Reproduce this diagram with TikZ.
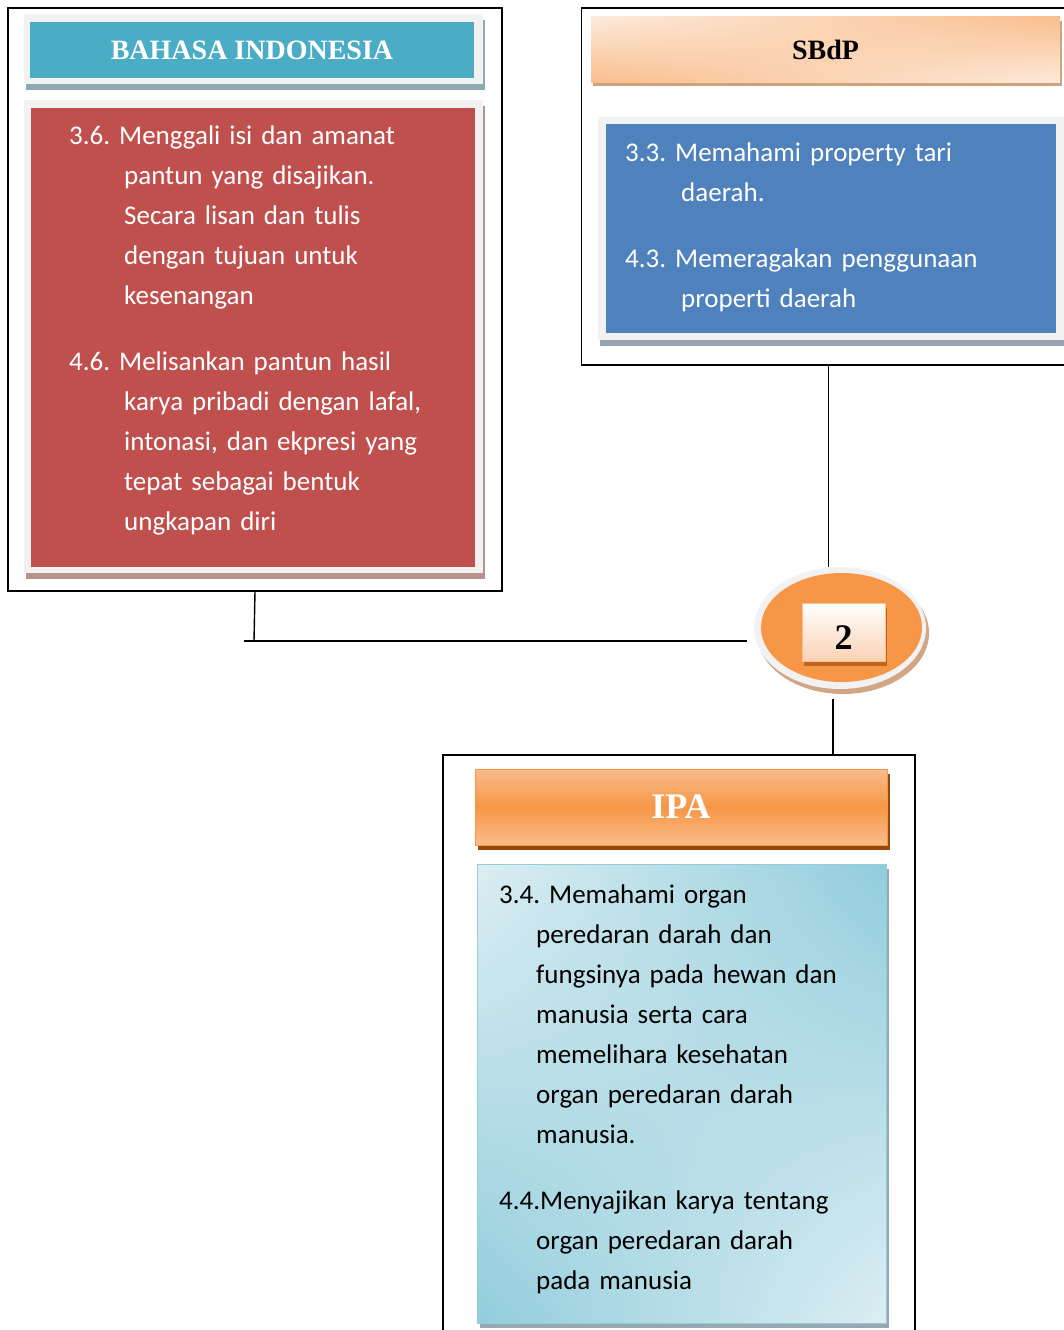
\documentclass[tikz,border=0pt]{standalone}
\usepackage{fontspec}
\setmainfont{Carlito}
\newfontfamily\headfont{Liberation Serif}
\usetikzlibrary{shapes,shadows,shadings,positioning}
\frenchspacing

\newlength{\hangsize}
\newcommand{\nl}{\newline\hspace*{\hangsize}}

\definecolor{frameGray}{HTML}{F2F2F2}
\definecolor{biBlue}{HTML}{4BACC6}
\definecolor{biShadow}{HTML}{8EA9B1}
\definecolor{biRed}{HTML}{C0504D}
\definecolor{redShadow}{HTML}{B99191}
\definecolor{sbOrange}{HTML}{F9BE8C}
\definecolor{sbLight}{HTML}{FDEADC}
\definecolor{sbShadow}{HTML}{CFA27E}
\definecolor{sbBlue}{HTML}{4F81BD}
\definecolor{blueShadow}{HTML}{95A3B3}
\definecolor{ellOrange}{HTML}{F79646}
\definecolor{ellShadow}{HTML}{D3A585}
\definecolor{numPeach}{HTML}{FAD2B4}
\definecolor{numBorder}{HTML}{FAC090}
\definecolor{numShadow}{HTML}{C4651F}
\definecolor{ipaLight}{HTML}{F9BC8B}
\definecolor{ipaShadow}{HTML}{984807}
\definecolor{aquaLight}{HTML}{DCEEF3}
\definecolor{aquaDark}{HTML}{92CDDC}
\definecolor{aquaShadow}{HTML}{98A8B0}

\begin{document}
\begin{tikzpicture}[x=1pt,y=-1pt]
\useasboundingbox (0,0) rectangle (1064,1330);
		\begin{scope}
            [
                styleOuter/.style={draw, line width=1.4pt, fill=white},
                styleFrame/.style={fill=frameGray, inner sep=0pt,
                    drop shadow={shadow xshift=2pt, shadow yshift=-6pt, fill=#1, opacity=1}},
                styleShadow/.style={inner sep=0pt,
                    drop shadow={shadow xshift=3pt, shadow yshift=-5pt, fill=#1, opacity=1}},
                styleHead/.style={inner sep=0pt, text=white,
                    font=\headfont\bfseries\fontsize{28}{34}\selectfont},
                styleText/.style={anchor=north west, inner sep=0pt, text width=420pt,
                    font=\fontsize{27}{40}\selectfont,
                    execute at begin node={\setlength{\hangsize}{#1}}},
            ]
			% BAHASA INDONESIA
			\node(biBox)[styleOuter, minimum width=494pt, minimum height=583pt] at (255,299.5) {};
			\node(biFrame)[styleFrame=biShadow, minimum width=459pt, minimum height=70pt] at (253.5,49) {};
			\node(biHead)[styleHead, fill=biBlue, minimum width=444pt, minimum height=55pt] at (252,50) {BAHASA INDONESIA};
			\node(biBodyFrame)[styleFrame=redShadow, minimum width=459pt, minimum height=473pt] at (253.5,336.5) {};
			\node(biBody)[fill=biRed, inner sep=0pt, minimum width=444pt, minimum height=459pt] at (253,337.5) {};
			\node(bi36)[styleText=55pt, text=white] at (69,126) {3.6. Menggali isi dan amanat\nl
				pantun yang disajikan.\nl Secara lisan dan tulis\nl dengan tujuan untuk\nl kesenangan};
			\node(bi46)[styleText=55pt, text=white] at (69,352) {4.6. Melisankan pantun hasil\nl
				karya pribadi dengan lafal,\nl intonasi, dan ekpresi yang\nl tepat sebagai bentuk\nl ungkapan diri};

			% SBdP
			\node(sbBox)[styleOuter, minimum width=494pt, minimum height=357pt] at (828.5,186.5) {};
			\node(sbHead)[styleHead, text=black, minimum width=469pt, minimum height=65pt,
				upper left=sbLight, upper right=sbOrange, lower left=sbOrange, lower right=sbLight,
				drop shadow={shadow xshift=2pt, shadow yshift=-4pt, fill=sbShadow, opacity=1}]
				at (825.5,49.5) {SBdP};
			\node(sbBodyFrame)[styleFrame=blueShadow, minimum width=466pt, minimum height=223pt] at (831,228.5) {};
			\node(sbBody)[fill=sbBlue, inner sep=0pt, minimum width=450pt, minimum height=209pt] at (831,228.5) {};
			\node(sb33)[styleText=56pt, text=white] at (625,143) {3.3. Memahami property tari\nl daerah.};
			\node(sb43)[styleText=56pt, text=white] at (625,249) {4.3. Memeragakan penggunaan\nl properti daerah};

			% circle with number
			\node(ellRing)[ellipse, styleShadow=ellShadow, fill=frameGray, minimum width=172pt, minimum height=122pt] at (840,628) {};
			\node(ellCore)[ellipse, inner sep=0pt, fill=ellOrange, minimum width=161pt, minimum height=109pt] at (841.5,627.5) {};
			\node(num)[draw=numBorder, line width=1pt, top color=white, bottom color=numPeach,
				inner sep=0pt, minimum width=83pt, minimum height=58pt, text height=34pt, text depth=0pt,
				font=\headfont\bfseries\fontsize{36}{40}\selectfont,
				drop shadow={shadow xshift=2pt, shadow yshift=-5pt, fill=numShadow, opacity=1}]
				at (843.5,632) {2};

			% IPA
			\node(ipaBox)[styleOuter, minimum width=472pt, minimum height=600pt] at (679,1055) {};
			\node(ipaHead)[styleHead, draw=ellOrange, line width=1pt,
				top color=ipaLight, bottom color=ipaLight, middle color=ellOrange,
				font=\headfont\bfseries\fontsize{36}{40}\selectfont,
				minimum width=412pt, minimum height=76pt,
				drop shadow={shadow xshift=3pt, shadow yshift=-5pt, fill=ipaShadow, opacity=1}]
				at (681,807) {IPA};
			\node(ipaBody)[draw=aquaDark, line width=1pt, inner sep=0pt,
				upper left=aquaLight, upper right=aquaDark, lower left=aquaDark, lower right=aquaLight,
				minimum width=409pt, minimum height=459pt,
				drop shadow={shadow xshift=3pt, shadow yshift=-5pt, fill=aquaShadow, opacity=1}]
				at (681.5,1093.5) {};
			\node(ipa34)[styleText=37pt, text=black] at (499,885) {3.4. Memahami organ\nl peredaran darah dan\nl
				fungsinya pada hewan dan\nl manusia serta cara\nl memelihara kesehatan\nl
				organ peredaran darah\nl manusia.};
			\node(ipa44)[styleText=37pt, text=black] at (499,1191) {4.4.Menyajikan karya tentang\nl
				organ peredaran darah\nl pada manusia};

			\coordinate(biJoin) at (254,641);
			\coordinate(biEnd) at (244,641);
			\coordinate(ellLeft) at (747,641);
			\coordinate(ellFoot) at (833,699);
		\end{scope}
		\begin{scope}
            [line width=1.4pt]
            \path
			(sbBox.south) edge (sbBox.south |- ellRing.north)
			(biBox.south) edge (biJoin)
			(biEnd)       edge (ellLeft)
			(ellFoot)     edge (ellFoot |- ipaBox.north);
		\end{scope}
\end{tikzpicture}
\end{document}
